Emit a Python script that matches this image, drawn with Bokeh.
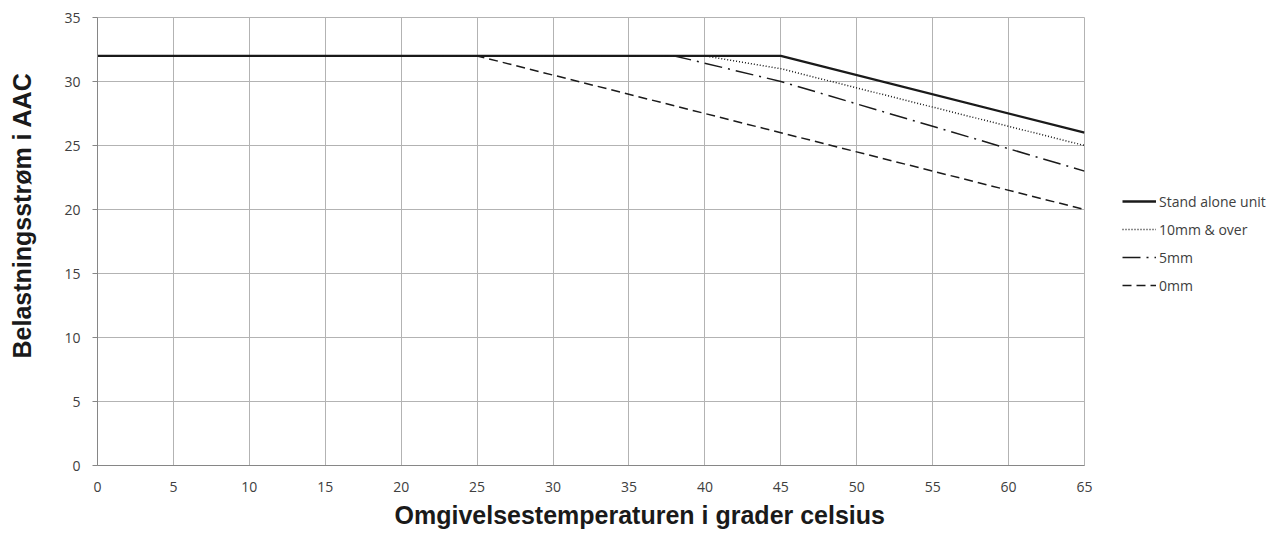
from bokeh.plotting import figure
from bokeh.models import Legend, LegendItem, Range1d, FixedTicker, Title
from bokeh.layouts import row
from bokeh.embed import file_html
from bokeh.resources import INLINE

# Data
stand_x = [0, 45, 65]
stand_y = [32, 32, 26]
mm10_x = [0, 40, 45, 65]
mm10_y = [32, 32, 31, 25]
mm5_x = [0, 38, 45, 65]
mm5_y = [32, 32, 30, 23]
mm0_x = [0, 25, 45, 65]
mm0_y = [32, 32, 26, 20]
series_names = ["Stand alone unit", "10mm & over", "5mm", "0mm"]
x_ticks = list(range(0, 70, 5))
y_ticks = list(range(0, 40, 5))
x_title = "Omgivelsestemperaturen i grader celsius"
y_title = "Belastningsstrøm i AAC"

lc = "#1a1a1a"
styles = [
    dict(line_color=lc, line_width=2.4),
    dict(line_color=lc, line_width=1.5, line_dash="1 2"),
    dict(line_color=lc, line_width=1.5, line_dash="18 6 2 6"),
    dict(line_color=lc, line_width=1.5, line_dash="9 5"),
]
xs = [stand_x, mm10_x, mm5_x, mm0_x]
ys = [stand_y, mm10_y, mm5_y, mm0_y]

# Narrow panel carrying the y-axis title
pt = figure(width=60, height=537, output_backend="svg", toolbar_location=None,
            x_axis_type=None, y_axis_type=None, min_border=0,
            x_range=Range1d(0, 1), y_range=Range1d(0, 1))
pt.outline_line_color = None
pt.grid.visible = False
pt.background_fill_color = "white"
pt.border_fill_color = "white"
yt = Title(text=y_title, align="left", offset=107, vertical_align="middle",
           text_font="Liberation Sans", text_font_style="bold", text_font_size="25px",
           text_color="#1a1a1a", standoff=12)
pt.add_layout(yt, "left")

# Main chart
p = figure(width=1034, height=537, output_backend="svg", toolbar_location=None,
           x_range=Range1d(0, 65), y_range=Range1d(0, 35),
           min_border_left=37, min_border_top=17, min_border_bottom=72, min_border_right=10)
p.background_fill_color = "white"
p.border_fill_color = "white"
p.outline_line_color = "#b3b3b3"

grid_col = "#b3b3b3"
p.xgrid.grid_line_color = grid_col
p.ygrid.grid_line_color = grid_col
p.xaxis.ticker = FixedTicker(ticks=x_ticks)
p.yaxis.ticker = FixedTicker(ticks=y_ticks)

for ax in (p.xaxis[0], p.yaxis[0]):
    ax.axis_line_color = "#868686"
    ax.major_tick_line_color = "#868686"
    ax.minor_tick_line_color = None
    ax.major_label_text_font = "Open Sans"
    ax.major_label_text_font_size = "14px"
    ax.major_label_text_color = "#404040"

p.xaxis.major_tick_out = 0
p.xaxis.major_tick_in = 0
p.yaxis.major_tick_out = 5
p.yaxis.major_tick_in = 0
p.xaxis.major_label_standoff = 16
p.yaxis.major_label_standoff = 12

xt = Title(text=x_title, align="left", offset=297, text_font="Liberation Sans",
           text_font_style="bold", text_font_size="25px", text_color="#1a1a1a", standoff=8)
p.add_layout(xt, "below")

for x, y, st in zip(xs, ys, styles):
    p.line(x, y, **st)

# Legend panel at the right (its lines lie outside its visible range)
p2 = figure(width=189, height=537, output_backend="svg", toolbar_location=None,
            x_axis_type=None, y_axis_type=None, min_border=0,
            x_range=Range1d(-300, -200), y_range=Range1d(-300, -200))
p2.outline_line_color = None
p2.grid.visible = False
p2.background_fill_color = "white"
p2.border_fill_color = "white"
items = []
for name, x, y, st in zip(series_names, xs, ys, styles):
    r = p2.line(x, y, **st)
    items.append(LegendItem(label=name, renderers=[r]))
legend = Legend(items=items, location=(28, 166), border_line_color=None,
                background_fill_alpha=0, label_text_font="Open Sans",
                label_text_font_size="14px", label_text_color="#404040",
                glyph_width=34, glyph_height=28, label_height=28, label_standoff=3,
                spacing=0, padding=0, margin=0)
p2.add_layout(legend, "center")

layout = row(pt, p, p2, spacing=0)
open("out.html", "w").write(file_html(layout, INLINE))
